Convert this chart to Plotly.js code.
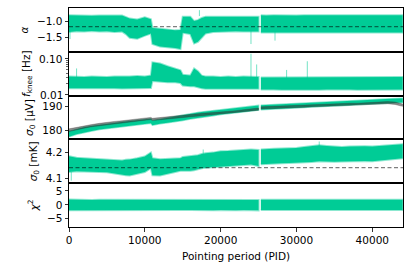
<!DOCTYPE html>
<html><head><meta charset="utf-8">
<script src="https://cdn.plot.ly/plotly-3.0.1.min.js"></script>
<style>html,body{margin:0;padding:0;background:#fff}#c{width:412px;height:273px}</style>
</head><body><div id="c"></div>
<script>
// Pointing periods (PID) at which the envelope was read
const PID = [0,1000,2000,3000,4000,5000,6000,7000,7500,8000,9000,10000,10800,11000,12000,13000,14000,14700,15000,16000,16500,17000,17500,18000,19000,20000,21000,22000,23000,24000,25000,25300,26000,27000,28000,29000,30000,31000,32000,33000,34000,35000,36000,37000,38000,39000,40000,41000,42000,43000,44000];
const GAP_START = 25000, GAP_END = 25300;

// Panel 1: alpha
const alphaHi = [-0.79,-0.80,-0.80,-0.81,-0.80,-0.79,-0.80,-0.80,-0.86,-0.90,-0.93,-0.86,-0.92,-1.20,-1.23,-1.26,-1.28,-1.27,-0.84,-0.84,-0.98,-0.95,-0.88,-0.84,-0.84,-0.83,-0.84,-0.84,-0.83,-0.84,-0.84,-0.79,-0.80,-0.79,-0.80,-0.79,-0.80,-0.79,-0.79,-0.80,-0.79,-0.80,-0.79,-0.79,-0.80,-0.79,-0.80,-0.79,-0.79,-0.80,-0.79];
const alphaLo = [-1.33,-1.31,-1.32,-1.30,-1.32,-1.31,-1.33,-1.32,-1.40,-1.52,-1.55,-1.45,-1.38,-1.72,-1.80,-1.83,-1.85,-1.88,-1.36,-1.40,-1.70,-1.65,-1.50,-1.38,-1.33,-1.32,-1.32,-1.31,-1.32,-1.33,-1.32,-1.35,-1.34,-1.35,-1.36,-1.35,-1.34,-1.35,-1.36,-1.35,-1.34,-1.35,-1.36,-1.35,-1.34,-1.35,-1.36,-1.35,-1.34,-1.35,-1.35];
const alphaRef = -1.16;
const alphaSpikePID = [130, 17200, 24000, 27170];
const alphaSpikeFrom = [-1.30, -0.82, -1.30, -1.33];
const alphaSpikeTo = [-1.56, -0.63, -1.72, -1.61];

// Panel 2: f_knee [Hz]
const fkHi = [0.032,0.031,0.031,0.032,0.031,0.031,0.032,0.033,0.032,0.032,0.033,0.032,0.034,0.080,0.074,0.062,0.052,0.048,0.036,0.034,0.054,0.045,0.034,0.032,0.032,0.031,0.032,0.031,0.032,0.032,0.031,0.030,0.030,0.031,0.030,0.030,0.031,0.030,0.030,0.031,0.030,0.030,0.031,0.030,0.030,0.031,0.030,0.030,0.031,0.030,0.031];
const fkLo = [0.0150,0.0148,0.0150,0.0147,0.0150,0.0149,0.0150,0.0148,0.0149,0.0150,0.0148,0.0150,0.0152,0.024,0.023,0.022,0.022,0.021,0.018,0.017,0.017,0.016,0.0150,0.0145,0.0144,0.0143,0.0145,0.0144,0.0143,0.0144,0.0145,0.0138,0.0137,0.0138,0.0136,0.0138,0.0137,0.0138,0.0136,0.0137,0.0138,0.0137,0.0136,0.0138,0.0137,0.0138,0.0136,0.0137,0.0138,0.0137,0.0138];
const fkRef = 0.0188;
const fkSpikePID = [1000, 24000, 24750, 28700, 31430];
const fkSpikeFrom = [0.030, 0.030, 0.030, 0.029, 0.029];
const fkSpikeTo = [0.054, 0.14, 0.070, 0.049, 0.086];
const fkTicks = [0.01, 0.1];
const fkTickText = ['0.01', '0.10'];
const fkMinorTicks = [0.02,0.03,0.04,0.05,0.06,0.07,0.08,0.09];

// Panel 3: sigma0 [uV] (green) and comparison (gray)
const s0Hi = [179.5,180.4,181.2,181.7,182.2,182.7,183.0,183.4,183.6,183.8,184.1,184.4,184.7,184.0,184.6,185.1,185.6,186.0,186.2,186.8,187.0,187.3,187.5,187.7,188.1,188.6,188.9,189.2,189.6,190.0,190.3,190.4,190.5,190.6,190.8,190.9,191.0,191.2,191.4,191.6,191.7,191.9,192.1,192.2,192.3,192.5,192.7,192.9,193.0,193.2,193.3];
const s0Lo = [177.2,178.2,179.0,179.6,180.2,180.8,181.1,181.4,181.6,181.8,182.2,182.5,182.8,182.0,182.6,183.1,183.6,183.9,184.0,184.6,184.9,185.2,185.4,185.6,186.0,186.5,186.9,187.2,187.6,188.0,188.3,188.5,188.6,188.8,188.9,189.1,189.2,189.4,189.6,189.8,190.0,190.1,190.3,190.4,190.6,190.8,190.9,191.1,191.3,191.4,191.5];
const grayHi = [180.5,181.2,181.8,182.3,182.8,183.3,183.6,183.9,184.1,184.3,184.7,185.0,185.3,184.9,185.3,185.6,185.9,186.1,186.2,186.5,186.7,186.8,186.9,187.1,187.3,187.5,187.8,188.1,188.5,188.9,189.2,189.7,189.8,189.9,190.0,190.1,190.2,190.4,190.6,190.8,190.9,191.0,191.1,191.2,191.2,191.4,191.6,191.8,191.9,191.7,190.9];
const grayLo = [179.4,180.1,180.8,181.4,181.9,182.4,182.7,183.0,183.2,183.4,183.8,184.1,184.4,184.0,184.4,184.7,185.0,185.2,185.3,185.6,185.8,186.0,186.1,186.3,186.5,186.8,187.0,187.3,187.6,188.0,188.3,188.8,188.9,189.0,189.1,189.2,189.3,189.5,189.7,189.9,190.0,190.1,190.2,190.3,190.3,190.5,190.7,190.9,191.0,190.7,189.9];

// Panel 4: sigma0 [mK]
const mkHi = [4.186,4.180,4.178,4.176,4.175,4.173,4.172,4.170,4.172,4.173,4.178,4.185,4.200,4.178,4.174,4.175,4.176,4.178,4.183,4.186,4.188,4.190,4.195,4.198,4.200,4.205,4.206,4.208,4.210,4.212,4.210,4.212,4.214,4.215,4.216,4.217,4.218,4.222,4.225,4.228,4.226,4.224,4.222,4.224,4.225,4.225,4.224,4.226,4.228,4.230,4.232];
const mkLo = [4.125,4.128,4.127,4.126,4.125,4.124,4.120,4.115,4.113,4.112,4.118,4.125,4.140,4.113,4.112,4.118,4.125,4.130,4.128,4.130,4.132,4.135,4.140,4.142,4.145,4.147,4.150,4.150,4.152,4.154,4.148,4.155,4.157,4.158,4.159,4.160,4.160,4.162,4.164,4.167,4.166,4.165,4.166,4.167,4.168,4.168,4.167,4.170,4.172,4.175,4.178];
const mkRef = 4.142;
const mkSpikePID = [300, 17700, 33000];
const mkSpikeFrom = [4.125, 4.190, 4.225];
const mkSpikeTo = [4.092, 4.212, 4.243];

// Panel 5: chi^2
const chiHi = [1.9,1.8,1.8,1.7,1.8,1.8,1.7,1.8,1.8,1.7,1.8,1.8,1.7,1.9,1.9,1.8,1.8,1.8,1.8,1.8,1.7,1.8,1.8,1.8,1.7,1.8,1.8,1.7,1.8,1.8,1.7,1.8,1.8,1.7,1.8,1.8,1.8,1.7,1.8,1.8,1.8,1.7,1.8,1.8,1.8,1.7,1.9,1.8,1.8,1.7,1.8];
const chiLo = [-2.0,-1.9,-1.9,-2.0,-1.9,-1.9,-2.0,-1.9,-1.9,-2.0,-1.9,-1.9,-2.0,-1.8,-1.8,-1.9,-1.9,-1.9,-1.9,-1.9,-2.0,-1.9,-1.9,-1.9,-2.0,-1.9,-1.9,-2.0,-1.9,-1.9,-2.0,-1.9,-2.0,-1.9,-1.9,-2.0,-1.9,-1.9,-2.0,-1.9,-1.9,-2.0,-1.9,-1.9,-2.0,-1.9,-1.9,-2.0,-1.9,-1.9,-1.9];

const GREEN = '#00cc96';
const GREEN_EDGE = 'rgba(0,204,150,0.45)';
const GREEN_LIGHT = 'rgba(0,204,150,0.55)';

function band(hi, lo, xa, ya, fill, line, lw) {
  const xs = [], ys = [];
  const segs = [PID.map((p,i)=>i).filter(i=>PID[i] <= GAP_START), PID.map((p,i)=>i).filter(i=>PID[i] >= GAP_END)];
  segs.forEach((idx, k) => {
    if (k > 0) { xs.push(null); ys.push(null); }
    idx.forEach(i => { xs.push(PID[i]); ys.push(hi[i]); });
    idx.slice().reverse().forEach(i => { xs.push(PID[i]); ys.push(lo[i]); });
  });
  return {type:'scatter', mode:'lines', x:xs, y:ys, fill:'toself', fillcolor:fill,
    line:{color:line, width:lw}, xaxis:xa, yaxis:ya, hoverinfo:'skip', showlegend:false};
}
function spikes(p, a, b, xa, ya) {
  const xs = [], ys = [];
  p.forEach((v,i)=>{ xs.push(v, v, null); ys.push(a[i], b[i], null); });
  return {type:'scatter', mode:'lines', x:xs, y:ys, line:{color:GREEN_LIGHT, width:1},
    xaxis:xa, yaxis:ya, hoverinfo:'skip', showlegend:false};
}

const data = [
  band(alphaHi, alphaLo, 'x', 'y', GREEN, GREEN_EDGE, 2),
  spikes(alphaSpikePID, alphaSpikeFrom, alphaSpikeTo, 'x', 'y'),
  band(fkHi, fkLo, 'x2', 'y2', GREEN, GREEN_EDGE, 2),
  spikes(fkSpikePID, fkSpikeFrom, fkSpikeTo, 'x2', 'y2'),
  band(s0Hi, s0Lo, 'x3', 'y3', GREEN, GREEN_EDGE, 1.5),
  band(grayHi, grayLo, 'x3', 'y3', 'rgba(50,50,50,0.55)', 'rgba(50,50,50,0.3)', 1),
  band(mkHi, mkLo, 'x4', 'y4', GREEN, GREEN_EDGE, 2),
  spikes(mkSpikePID, mkSpikeFrom, mkSpikeTo, 'x4', 'y4'),
  band(chiHi, chiLo, 'x5', 'y5', GREEN, GREEN_EDGE, 2)
];

const FONT = {family:'DejaVu Sans', size:10.5, color:'#000'};
const XR = [0, 44050];
function xax(i, bottom) {
  const a = {range:XR, showline:true, mirror:true, linecolor:'#000', linewidth:1,
    showgrid:false, zeroline:false, anchor:'y'+(i===1?'':i), domain:[0,1],
    ticks: bottom?'outside':'', showticklabels:!!bottom, ticklen:3.5, tickwidth:0.8, tickcolor:'#000'};
  if (bottom) { a.tickvals=[0,10000,20000,30000,40000]; a.tickformat='d';
    a.title={text:'Pointing period (PID)', font:FONT, standoff:7}; }
  return a;
}
function yax(i, dom, extra) {
  return Object.assign({domain:dom, anchor:'x'+(i===1?'':i), showline:true, mirror:true,
    linecolor:'#000', linewidth:1, showgrid:false, zeroline:false, ticks:'outside',
    ticklen:3.5, tickwidth:0.8, tickcolor:'#000', tickfont:FONT}, extra);
}

// the lowest f_knee tick label sits right next to the "190" label below it,
// so it is drawn as an annotation (Plotly would otherwise drop one of the two)
const layout = {
  width:412, height:273, margin:{l:69, r:9, t:8, b:46},
  paper_bgcolor:'#fff', plot_bgcolor:'#fff', font:FONT, showlegend:false,
  xaxis: xax(1), xaxis2: xax(2), xaxis3: xax(3), xaxis4: xax(4), xaxis5: xax(5, true),
  yaxis: yax(1, [0.8,1], {range:[-1.97,-0.56], tickvals:[-1.0,-1.5], tickformat:'.1f',
    title:{text:'<i>α</i>', font:FONT, standoff:6}}),
  yaxis2: yax(2, [0.6,0.8], {type:'log', range:[-2.03,-0.8], tickmode:'array', tickvals:fkTicks,
    ticktext:fkTickText.map((t,i)=> i===0 ? ' ' : t),
    minor:{ticks:'outside', ticklen:2, tickwidth:0.6, tickcolor:'#000', tickvals:fkMinorTicks},
    title:{text:'<i>f</i><sub>knee</sub> [Hz]', font:FONT, standoff:6}}),
  yaxis3: yax(3, [0.4,0.6], {range:[176.1,194.4], tickvals:[180,190],
    title:{text:'<i>σ</i><sub>0</sub> [μV]', font:FONT, standoff:6}}),
  yaxis4: yax(4, [0.2,0.4], {range:[4.082,4.251], tickvals:[4.1,4.2], tickformat:'.1f',
    title:{text:'<i>σ</i><sub>0</sub> [mK]', font:FONT, standoff:6}}),
  yaxis5: yax(5, [0,0.2], {range:[-8,7.8], tickvals:[-5,0,5],
    title:{text:'<i>χ</i><sup>2</sup>', font:FONT, standoff:6}}),
  annotations: [
    {text:fkTickText[0], xref:'paper', x:0, xanchor:'right', xshift:-5, yref:'y2', y:Math.log10(fkTicks[0]),
     yanchor:'middle', showarrow:false, font:FONT, borderpad:0}
  ],
  shapes: [
    {type:'line', xref:'x domain', x0:0, x1:1, yref:'y', y0:alphaRef, y1:alphaRef, line:{color:'rgba(0,0,0,0.5)', width:1.2, dash:'4px,2.5px'}},
    {type:'line', xref:'x2 domain', x0:0, x1:1, yref:'y2', y0:Math.log10(fkRef), y1:Math.log10(fkRef), line:{color:'rgba(0,0,0,0.5)', width:1.2, dash:'4px,2.5px'}},
    {type:'line', xref:'x4 domain', x0:0, x1:1, yref:'y4', y0:mkRef, y1:mkRef, line:{color:'rgba(0,0,0,0.5)', width:1.2, dash:'4px,2.5px'}}
  ]
};
Plotly.newPlot('c', data, layout, {staticPlot:true, displayModeBar:false});
</script></body></html>
